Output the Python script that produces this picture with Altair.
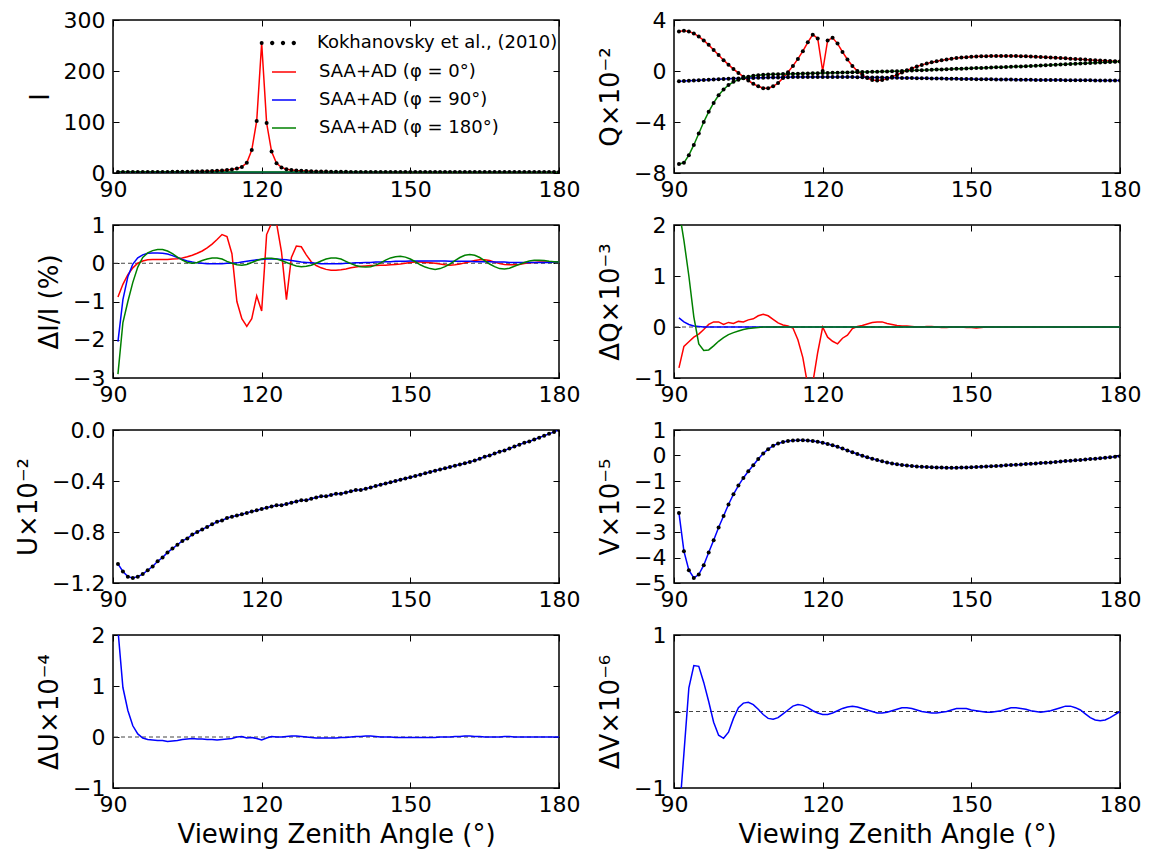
import altair as alt
import pandas as pd

# ---------------- data ----------------
VZA = list(range(91, 181))
VZA_COARSE = [91, 100, 110, 120, 130, 140, 150, 160, 170, 180]

I_PHI0 = [2.0, 2.0, 2.0, 2.0, 2.0, 2.0, 2.0, 2.1, 2.1, 2.2,
          2.2, 2.3, 2.4, 2.5, 2.6, 2.8, 3.0, 3.2, 3.5, 3.9,
          4.4, 5.0, 5.8, 7.0, 9.0, 12.0, 20.0, 45.0, 102.0, 255.0,
          98.0, 42.0, 19.0, 11.0, 7.5, 5.8, 4.8, 4.2, 3.7, 3.4,
          3.1, 2.9, 2.7, 2.6, 2.5, 2.4, 2.3, 2.2, 2.1, 2.1,
          2.0, 2.0, 2.0, 2.0, 2.0, 2.0, 2.0, 2.0, 2.0, 2.0,
          1.9, 1.9, 1.9, 1.9, 1.9, 1.9, 1.9, 1.9, 1.9, 1.9,
          1.9, 1.9, 1.9, 1.9, 1.9, 1.9, 1.9, 1.9, 1.9, 1.9,
          1.8, 1.8, 1.8, 1.8, 1.8, 1.8, 1.8, 1.8, 1.8, 1.8]
I_PHI90 = [1.8, 1.7, 1.6, 1.5, 1.5, 1.4, 1.4, 1.3, 1.3, 1.3]
I_PHI180 = [2.6, 2.3, 2.1, 2.0, 1.9, 1.8, 1.7, 1.7, 1.6, 1.6]

Q_PHI0 = [3.10, 3.15, 3.10, 2.95, 2.70, 2.40, 2.05, 1.65, 1.25, 0.85,
          0.50, 0.15, -0.15, -0.45, -0.75, -1.00, -1.20, -1.35, -1.35, -1.20,
          -0.95, -0.55, -0.10, 0.40, 0.95, 1.55, 2.25, 2.85, 2.55, 0.00,
          2.40, 2.60, 2.15, 1.50, 0.90, 0.40, 0.00, -0.30, -0.55, -0.70,
          -0.75, -0.70, -0.60, -0.45, -0.30, -0.12, 0.05, 0.20, 0.35, 0.48,
          0.58, 0.68, 0.76, 0.84, 0.90, 0.96, 1.01, 1.05, 1.08, 1.11,
          1.13, 1.15, 1.16, 1.17, 1.18, 1.18, 1.18, 1.18, 1.17, 1.16,
          1.15, 1.14, 1.12, 1.10, 1.08, 1.06, 1.04, 1.02, 1.00, 0.97,
          0.95, 0.92, 0.90, 0.87, 0.85, 0.83, 0.81, 0.79, 0.77, 0.75]
Q_PHI90 = [-0.80, -0.79, -0.77, -0.75, -0.73, -0.71, -0.69, -0.67, -0.65, -0.63,
           -0.61, -0.59, -0.58, -0.56, -0.55, -0.54, -0.53, -0.52, -0.51, -0.50,
           -0.50, -0.49, -0.49, -0.48, -0.48, -0.48, -0.47, -0.47, -0.47, -0.47,
           -0.47, -0.47, -0.47, -0.48, -0.48, -0.48, -0.49, -0.49, -0.50, -0.50,
           -0.51, -0.51, -0.52, -0.53, -0.53, -0.54, -0.55, -0.55, -0.56, -0.57,
           -0.57, -0.58, -0.59, -0.59, -0.60, -0.61, -0.61, -0.62, -0.63, -0.63,
           -0.64, -0.64, -0.65, -0.65, -0.66, -0.66, -0.67, -0.67, -0.68, -0.68,
           -0.69, -0.69, -0.70, -0.70, -0.70, -0.71, -0.71, -0.71, -0.72, -0.72,
           -0.72, -0.73, -0.73, -0.73, -0.74, -0.74, -0.74, -0.75, -0.75, -0.75]
Q_PHI180 = [-7.30, -7.20, -6.60, -5.80, -4.90, -4.00, -3.20, -2.50, -1.90, -1.45,
            -1.10, -0.85, -0.68, -0.55, -0.45, -0.38, -0.33, -0.30, -0.28, -0.26,
            -0.25, -0.24, -0.23, -0.22, -0.21, -0.20, -0.19, -0.18, -0.17, -0.16,
            -0.15, -0.14, -0.13, -0.12, -0.11, -0.10, -0.09, -0.08, -0.07, -0.06,
            -0.05, -0.04, -0.03, -0.02, -0.01, 0.00, 0.02, 0.03, 0.05, 0.06,
            0.08, 0.09, 0.11, 0.12, 0.14, 0.15, 0.17, 0.18, 0.20, 0.21,
            0.23, 0.24, 0.26, 0.27, 0.29, 0.30, 0.32, 0.33, 0.35, 0.36,
            0.38, 0.40, 0.41, 0.43, 0.45, 0.47, 0.49, 0.51, 0.53, 0.55,
            0.57, 0.59, 0.61, 0.63, 0.65, 0.67, 0.69, 0.71, 0.73, 0.75]

DI_PHI0 = [-0.88, -0.55, -0.30, -0.12, 0.00, 0.06, 0.09, 0.10, 0.10, 0.10,
           0.10, 0.11, 0.12, 0.14, 0.17, 0.21, 0.26, 0.32, 0.40, 0.50,
           0.62, 0.75, 0.70, 0.25, -1.00, -1.45, -1.65, -1.45, -0.85, -1.25,
           0.75, 1.05, 1.05, 0.30, -0.95, 0.15, 0.45, 0.43, 0.22, 0.04,
           -0.06, -0.12, -0.16, -0.18, -0.18, -0.17, -0.15, -0.12, -0.10, -0.08,
           -0.07, -0.06, -0.06, -0.05, -0.05, -0.04, -0.03, -0.02, 0.00, 0.02,
           0.03, 0.03, 0.02, 0.01, 0.00, -0.02, -0.04, -0.05, -0.04, -0.02,
           0.01, 0.04, 0.07, 0.09, 0.09, 0.07, 0.03, -0.01, -0.03, -0.04,
           -0.04, -0.03, -0.01, 0.01, 0.02, 0.03, 0.03, 0.03, 0.03, 0.03]
DI_PHI90 = [-2.05, -0.95, -0.35, -0.02, 0.14, 0.22, 0.26, 0.27, 0.27, 0.26,
            0.24, 0.20, 0.15, 0.10, 0.06, 0.03, 0.01, 0.00, -0.01, -0.01,
            -0.01, -0.01, 0.00, 0.00, 0.01, 0.03, 0.05, 0.07, 0.09, 0.10,
            0.11, 0.11, 0.11, 0.10, 0.09, 0.07, 0.05, 0.03, 0.02, 0.01,
            0.00, -0.01, -0.01, -0.01, -0.01, -0.01, 0.00, 0.00, 0.01, 0.01,
            0.02, 0.02, 0.03, 0.03, 0.04, 0.04, 0.05, 0.05, 0.05, 0.06,
            0.06, 0.06, 0.06, 0.06, 0.06, 0.06, 0.06, 0.05, 0.05, 0.05,
            0.05, 0.05, 0.04, 0.04, 0.04, 0.04, 0.03, 0.03, 0.03, 0.02,
            0.02, 0.02, 0.02, 0.02, 0.02, 0.02, 0.02, 0.02, 0.03, 0.03]
DI_PHI180 = [-2.90, -1.55, -1.00, -0.50, -0.10, 0.15, 0.27, 0.33, 0.36, 0.36,
             0.32, 0.25, 0.16, 0.08, 0.02, 0.00, 0.02, 0.07, 0.11, 0.14,
             0.14, 0.11, 0.05, 0.00, -0.04, -0.05, -0.03, 0.02, 0.07, 0.11,
             0.13, 0.13, 0.11, 0.07, 0.02, -0.03, -0.07, -0.09, -0.08, -0.05,
             0.00, 0.06, 0.11, 0.14, 0.14, 0.11, 0.05, -0.01, -0.06, -0.09,
             -0.10, -0.09, -0.05, 0.01, 0.08, 0.14, 0.17, 0.18, 0.16, 0.11,
             0.04, -0.04, -0.10, -0.14, -0.16, -0.14, -0.09, -0.02, 0.07, 0.15,
             0.21, 0.23, 0.21, 0.15, 0.07, -0.02, -0.09, -0.14, -0.15, -0.13,
             -0.08, -0.03, 0.02, 0.06, 0.08, 0.08, 0.07, 0.05, 0.04, 0.03]

DQ_PHI0 = [-0.80, -0.38, -0.29, -0.20, -0.14, -0.05, 0.05, 0.10, 0.10, 0.05,
           0.09, 0.07, 0.11, 0.10, 0.14, 0.16, 0.22, 0.25, 0.22, 0.15,
           0.08, 0.04, 0.02, -0.02, -0.25, -0.60, -1.15, -1.10, -0.50, 0.00,
           -0.20, -0.28, -0.33, -0.22, -0.16, -0.03, 0.01, 0.03, 0.06, 0.09,
           0.10, 0.10, 0.07, 0.05, 0.03, 0.02, 0.02, 0.01, 0.00, 0.00,
           0.01, 0.01, 0.00, -0.01, -0.01, 0.00, 0.00, 0.00, -0.01, -0.01,
           -0.02, -0.01, 0.00, 0.00, 0.00, 0.00, 0.00, 0.00, 0.00, 0.00,
           0.00, 0.00, 0.00, 0.00, 0.00, 0.00, 0.00, 0.00, 0.00, 0.00,
           0.00, 0.00, 0.00, 0.00, 0.00, 0.00, 0.00, 0.00, 0.00, 0.00]
DQ_PHI90 = [0.18, 0.10, 0.05, 0.02, 0.01, 0.00, 0.00, 0.00, 0.00, 0.00,
            0.00, 0.00, 0.00, 0.00, 0.00, 0.00, 0.00, 0.00, 0.00, 0.00,
            0.00, 0.00, 0.00, 0.00, 0.00, 0.00, 0.00, 0.00, 0.00, 0.00,
            0.00, 0.00, 0.00, 0.00, 0.00, 0.00, 0.00, 0.00, 0.00, 0.00,
            0.00, 0.00, 0.00, 0.00, 0.00, 0.00, 0.00, 0.00, 0.00, 0.00,
            0.00, 0.00, 0.00, 0.00, 0.00, 0.00, 0.00, 0.00, 0.00, 0.00,
            0.00, 0.00, 0.00, 0.00, 0.00, 0.00, 0.00, 0.00, 0.00, 0.00,
            0.00, 0.00, 0.00, 0.00, 0.00, 0.00, 0.00, 0.00, 0.00, 0.00,
            0.00, 0.00, 0.00, 0.00, 0.00, 0.00, 0.00, 0.00, 0.00, 0.00]
DQ_PHI180 = [2.30, 1.70, 1.00, 0.20, -0.33, -0.46, -0.45, -0.37, -0.28, -0.21,
             -0.15, -0.11, -0.08, -0.05, -0.03, -0.02, -0.01, 0.00, 0.00, 0.00,
             0.00, 0.00, 0.00, 0.00, 0.00, 0.00, 0.00, 0.00, 0.00, 0.00,
             0.00, 0.00, 0.00, 0.00, 0.00, 0.00, 0.00, 0.00, 0.00, 0.00,
             0.00, 0.00, 0.00, 0.00, 0.00, 0.00, 0.00, 0.00, 0.00, 0.00,
             0.00, 0.00, 0.00, 0.00, 0.00, 0.00, 0.00, 0.00, 0.00, 0.00,
             0.00, 0.00, 0.00, 0.00, 0.00, 0.00, 0.00, 0.00, 0.00, 0.00,
             0.00, 0.00, 0.00, 0.00, 0.00, 0.00, 0.00, 0.00, 0.00, 0.00,
             0.00, 0.00, 0.00, 0.00, 0.00, 0.00, 0.00, 0.00, 0.00, 0.00]

U_VAL = [-1.05, -1.11, -1.15, -1.16, -1.15, -1.13, -1.10, -1.07, -1.03, -1.00,
         -0.96, -0.93, -0.90, -0.87, -0.85, -0.82, -0.80, -0.78, -0.76, -0.74,
         -0.72, -0.71, -0.69, -0.68, -0.67, -0.66, -0.65, -0.64, -0.63, -0.62,
         -0.61, -0.60, -0.59, -0.59, -0.58, -0.57, -0.56, -0.55, -0.55, -0.54,
         -0.53, -0.52, -0.52, -0.51, -0.50, -0.50, -0.49, -0.48, -0.47, -0.47,
         -0.46, -0.45, -0.44, -0.43, -0.42, -0.41, -0.40, -0.39, -0.38, -0.37,
         -0.36, -0.35, -0.34, -0.33, -0.32, -0.31, -0.30, -0.29, -0.28, -0.27,
         -0.26, -0.25, -0.24, -0.225, -0.21, -0.20, -0.185, -0.17, -0.16, -0.145,
         -0.13, -0.115, -0.10, -0.09, -0.075, -0.06, -0.045, -0.03, -0.015, 0.00]

V_VAL = [-2.25, -3.75, -4.50, -4.80, -4.67, -4.30, -3.80, -3.32, -2.82, -2.37,
         -1.92, -1.52, -1.18, -0.88, -0.62, -0.38, -0.14, 0.08, 0.25, 0.38,
         0.47, 0.53, 0.57, 0.59, 0.60, 0.60, 0.59, 0.57, 0.54, 0.50,
         0.45, 0.40, 0.34, 0.27, 0.20, 0.13, 0.06, -0.01, -0.07, -0.13,
         -0.18, -0.23, -0.27, -0.31, -0.34, -0.37, -0.39, -0.41, -0.43, -0.44,
         -0.45, -0.46, -0.47, -0.47, -0.48, -0.48, -0.48, -0.47, -0.47, -0.46,
         -0.45, -0.44, -0.43, -0.42, -0.41, -0.40, -0.38, -0.37, -0.36, -0.35,
         -0.33, -0.32, -0.31, -0.29, -0.28, -0.27, -0.25, -0.24, -0.22, -0.21,
         -0.19, -0.18, -0.16, -0.14, -0.13, -0.11, -0.09, -0.07, -0.05, -0.03]

DU_VAL = [2.10, 0.97, 0.52, 0.22, 0.06, -0.02, -0.05, -0.06, -0.07, -0.07,
          -0.09, -0.08, -0.07, -0.05, -0.04, -0.03, -0.04, -0.04, -0.05, -0.05,
          -0.06, -0.05, -0.04, -0.03, 0.00, 0.01, -0.02, -0.01, -0.03, -0.06,
          -0.02, 0.01, 0.00, 0.00, 0.01, 0.02, 0.02, 0.01, 0.00, -0.01,
          -0.02, -0.02, -0.02, -0.02, -0.02, -0.01, -0.01, 0.00, 0.01, 0.01,
          0.02, 0.02, 0.01, 0.00, 0.00, 0.00, -0.01, -0.01, -0.01, -0.01,
          -0.01, -0.01, -0.01, -0.01, -0.01, 0.00, 0.00, 0.00, 0.01, 0.01,
          0.02, 0.02, 0.01, 0.01, 0.00, 0.00, 0.00, 0.00, 0.01, 0.01,
          0.00, 0.00, 0.00, 0.00, 0.00, 0.00, 0.00, 0.00, 0.00, 0.00]

DV_VAL = [-1.40, -0.55, 0.31, 0.60, 0.59, 0.38, 0.13, -0.14, -0.31, -0.35,
          -0.27, -0.09, 0.05, 0.11, 0.12, 0.09, 0.03, -0.04, -0.09, -0.10,
          -0.08, -0.03, 0.02, 0.07, 0.09, 0.08, 0.05, 0.01, -0.02, -0.04,
          -0.04, -0.02, 0.01, 0.04, 0.06, 0.07, 0.06, 0.04, 0.02, 0.00,
          -0.02, -0.02, -0.01, 0.01, 0.03, 0.05, 0.05, 0.04, 0.02, 0.00,
          -0.01, -0.02, -0.02, -0.01, 0.00, 0.02, 0.04, 0.04, 0.04, 0.02,
          0.01, 0.00, -0.01, -0.01, 0.00, 0.01, 0.03, 0.05, 0.05, 0.04,
          0.03, 0.01, 0.00, -0.01, 0.00, 0.01, 0.03, 0.05, 0.07, 0.07,
          0.05, 0.02, -0.03, -0.08, -0.11, -0.12, -0.11, -0.08, -0.04, 0.00]

X_TICKS = [90, 120, 150, 180]
REF_LABEL = "Kokhanovsky et al., (2010)"
SERIES_LABELS = ["SAA+AD (φ = 0°)", "SAA+AD (φ = 90°)", "SAA+AD (φ = 180°)"]
X_TITLE = "Viewing Zenith Angle (°)"

# ---------------- styling ----------------
W, H = 446, 153
FONT = "DejaVu Sans"
RED, BLUE, GREEN = "#ff0000", "#0000ff", "#008000"
DOTS_PATH = ("M-1.08,0a0.18,0.18 0 1,0 0.36,0a0.18,0.18 0 1,0 -0.36,0Z"
             "M-0.18,0a0.18,0.18 0 1,0 0.36,0a0.18,0.18 0 1,0 -0.36,0Z"
             "M0.72,0a0.18,0.18 0 1,0 0.36,0a0.18,0.18 0 1,0 -0.36,0Z")
LEG_X = 158
LEG_OFF = 22
LEG_FS = 18


def frame(x, y, label=None):
    d = pd.DataFrame({"x": x, "v": y})
    if label is not None:
        d["series"] = label
    return d


def panel(ytitle, ydom, yticks, yfmt, lines, dots=(), zero=False, xtitle=None, legend=False):
    xs = alt.Scale(domain=[90, 180], nice=False, zero=False)
    ys = alt.Scale(domain=ydom, nice=False, zero=False)
    xa = alt.Axis(values=X_TICKS, format="d", ticks=False, domain=False, grid=False,
                  labelPadding=6, labelFlush=False, labelOverlap=False,
                  title=xtitle, titlePadding=6)
    ya = alt.Axis(values=yticks, format=yfmt, ticks=False, domain=False, grid=False,
                  labelPadding=8, labelOverlap=False, labelFlush=False,
                  title=ytitle, titlePadding=10)
    X = alt.X("x:Q", scale=xs, axis=xa)
    Y = alt.Y("v:Q", scale=ys, axis=ya)

    layers = []
    if zero:
        layers.append(alt.Chart(pd.DataFrame({"v": [0.0]})).mark_rule(
            color="#444444", strokeDash=[4, 3], strokeWidth=1).encode(y=Y))
    if legend:
        df = pd.concat([frame(xx, yy, lab) for xx, yy, c, lab in lines])
        layers.append(alt.Chart(df).mark_line(strokeWidth=1.5, clip=True).encode(
            x=X, y=Y,
            color=alt.Color("series:N",
                            scale=alt.Scale(domain=SERIES_LABELS, range=[RED, BLUE, GREEN]),
                            legend=alt.Legend(title=None, orient="none", legendX=LEG_X, legendY=39,
                                              symbolType="stroke", symbolSize=576,
                                              symbolStrokeWidth=1.5, labelFontSize=LEG_FS,
                                              labelFont=FONT, labelOffset=LEG_OFF, rowPadding=6,
                                              labelLimit=400, padding=0))))
    else:
        for xx, yy, c, lab in lines:
            layers.append(alt.Chart(frame(xx, yy)).mark_line(
                color=c, strokeWidth=1.5, clip=True).encode(x=X, y=Y))
    for xx, yy in dots:
        dd = frame(xx, yy)
        if legend:
            dd["src"] = REF_LABEL
            layers.append(alt.Chart(dd).mark_circle(size=16, opacity=1, clip=True).encode(
                x=X, y=Y,
                fill=alt.Fill("src:N", scale=alt.Scale(domain=[REF_LABEL], range=["black"]),
                              legend=alt.Legend(title=None, orient="none", legendX=LEG_X, legendY=11,
                                                symbolType=DOTS_PATH, symbolSize=576,
                                                symbolFillColor="black", symbolStrokeWidth=0,
                                                labelFontSize=LEG_FS, labelFont=FONT,
                                                labelOffset=LEG_OFF, labelLimit=400, padding=0))))
        else:
            layers.append(alt.Chart(dd).mark_circle(size=16, color="black", opacity=1,
                                                    clip=True).encode(x=X, y=Y))
    inner = alt.layer(*layers)

    def tick_axis(orient, offset, values):
        return alt.Axis(orient=orient, offset=offset, values=values, labels=False,
                        domain=False, grid=False, ticks=True, tickSize=6, tickWidth=1,
                        tickColor="black", title=None)

    base = frame(lines[0][0], lines[0][1])
    tb = alt.Chart(base).mark_point(opacity=0).encode(
        x=alt.X("x:Q", scale=xs, axis=tick_axis("top", -H, X_TICKS)),
        y=alt.Y("v:Q", scale=ys, axis=tick_axis("right", -W, yticks)))
    tc = alt.Chart(base).mark_point(opacity=0).encode(
        x=alt.X("x:Q", scale=xs, axis=tick_axis("bottom", -H, X_TICKS)),
        y=alt.Y("v:Q", scale=ys, axis=tick_axis("left", -W, yticks)))
    return alt.layer(inner, tb, tc).resolve_axis(x="independent", y="independent").properties(
        width=W, height=H)


p1 = panel("I", [0, 300], [0, 100, 200, 300], "d",
           [(VZA, I_PHI0, RED, SERIES_LABELS[0]),
            (VZA_COARSE, I_PHI90, BLUE, SERIES_LABELS[1]),
            (VZA_COARSE, I_PHI180, GREEN, SERIES_LABELS[2])],
           dots=[(VZA, I_PHI0)], legend=True)
p2 = panel("Q×10⁻²", [-8, 4], [-8, -4, 0, 4], "d",
           [(VZA, Q_PHI0, RED, None), (VZA, Q_PHI90, BLUE, None), (VZA, Q_PHI180, GREEN, None)],
           dots=[(VZA, Q_PHI0), (VZA, Q_PHI90), (VZA, Q_PHI180)])
p3 = panel("ΔI/I (%)", [-3, 1], [-3, -2, -1, 0, 1], "d",
           [(VZA, DI_PHI0, RED, None), (VZA, DI_PHI90, BLUE, None), (VZA, DI_PHI180, GREEN, None)],
           zero=True)
p4 = panel("ΔQ×10⁻³", [-1, 2], [-1, 0, 1, 2], "d",
           [(VZA, DQ_PHI0, RED, None), (VZA, DQ_PHI90, BLUE, None), (VZA, DQ_PHI180, GREEN, None)],
           zero=True)
p5 = panel("U×10⁻²", [-1.2, 0], [-1.2, -0.8, -0.4, 0.0], ".1f",
           [(VZA, U_VAL, BLUE, None)], dots=[(VZA, U_VAL)])
p6 = panel("V×10⁻⁵", [-5, 1], [-5, -4, -3, -2, -1, 0, 1], "d",
           [(VZA, V_VAL, BLUE, None)], dots=[(VZA, V_VAL)])
p7 = panel("ΔU×10⁻⁴", [-1, 2], [-1, 0, 1, 2], "d",
           [(VZA, DU_VAL, BLUE, None)], zero=True, xtitle=X_TITLE)
p8 = panel("ΔV×10⁻⁶", [-1, 1], [-1, 0, 1], "d",
           [(VZA, DV_VAL, BLUE, None)], zero=True, xtitle=X_TITLE)

chart = alt.concat(p1, p2, p3, p4, p5, p6, p7, p8, columns=2,
                   spacing={"row": 52, "column": 115}, bounds="flush").resolve_scale(
    color="independent", fill="independent").properties(
    padding={"left": 14, "top": 8, "right": 5, "bottom": 5}, background="white"
).configure_view(stroke="black", strokeWidth=1.5).configure_axis(
    labelFont=FONT, labelFontSize=22, labelColor="black",
    titleFont=FONT, titleFontSize=26, titleFontWeight="normal", titleColor="black"
).configure_legend(labelFont=FONT, labelColor="black")

chart.save("out.html", embed_options={"renderer": "svg", "actions": False})
